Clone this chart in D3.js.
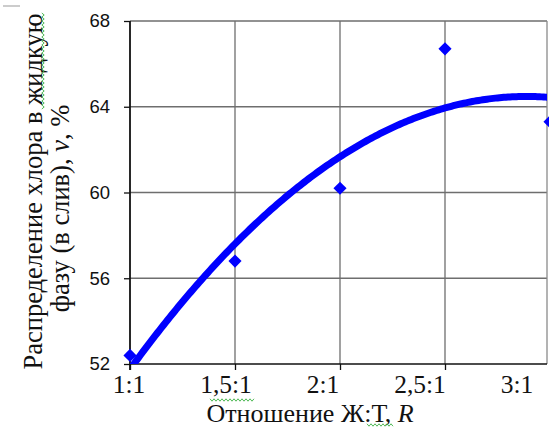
<!DOCTYPE html>
<html>
<head>
<meta charset="utf-8">
<script src="https://cdn.jsdelivr.net/npm/d3@7"></script>
<style>
  body { margin: 0; background: #fff; }
  svg { display: block; }
</style>
</head>
<body>
<svg id="chart" width="549" height="428"></svg>
<script>
const ratios = [1, 1.5, 2, 2.5, 3];
const ratioLabels = ['1:1', '1,5:1', '2:1', '2,5:1', '3:1'];
const chlorine = [52.4, 56.8, 60.2, 66.7, 63.3];
const yTicks = [52, 56, 60, 64, 68];

const plotL = 130, plotR = 547, plotT = 21, plotB = 364;
const serif = '"Liberation Serif", "Times New Roman", serif';

const svg = d3.select('#chart');

const x = d3.scaleLinear().domain([1, 3]).range([plotL, 550]);
const y = d3.scaleLinear().domain([52, 68]).range([plotB, plotT]);
// category labels are squeezed to fit inside the page
const xLab = d3.scalePoint().domain(ratioLabels).range([129, 517]);

// quadratic least squares trend (like the spreadsheet trendline)
const fitQuad = (xs, ys) => {
    let s = [0, 0, 0, 0, 0], t = [0, 0, 0];
    xs.forEach((xv, i) => {
        for (let k = 0; k < 5; k++) s[k] += Math.pow(xv, k);
        for (let k = 0; k < 3; k++) t[k] += Math.pow(xv, k) * ys[i];
    });
    const A = [[s[0], s[1], s[2], t[0]], [s[1], s[2], s[3], t[1]], [s[2], s[3], s[4], t[2]]];
    for (let i = 0; i < 3; i++) {
        for (let j = i + 1; j < 3; j++) {
            const f = A[j][i] / A[i][i];
            for (let k = i; k < 4; k++) A[j][k] -= f * A[i][k];
        }
    }
    const c = [0, 0, 0];
    for (let i = 2; i >= 0; i--) {
        let v = A[i][3];
        for (let k = i + 1; k < 3; k++) v -= A[i][k] * c[k];
        c[i] = v / A[i][i];
    }
    return xv => c[0] + c[1] * xv + c[2] * xv * xv;
};
const trend = fitQuad(ratios, chlorine);

svg.append('defs').append('clipPath').attr('id', 'plot')
    .append('rect').attr('x', plotL).attr('y', plotT)
    .attr('width', plotR - plotL).attr('height', plotB - plotT);

// grid
svg.append('g').selectAll('line')
    .data(yTicks.slice(1))
    .enter().append('line')
    .attr('x1', plotL).attr('x2', plotR)
    .attr('y1', d => y(d)).attr('y2', d => y(d))
    .attr('stroke', '#6e6e6e').attr('stroke-width', 1.3);

svg.append('g').selectAll('line')
    .data(ratios.slice(1, 4))
    .enter().append('line')
    .attr('x1', d => x(d)).attr('x2', d => x(d))
    .attr('y1', plotT).attr('y2', plotB)
    .attr('stroke', '#6e6e6e').attr('stroke-width', 1.3);

svg.append('line')
    .attr('x1', plotR).attr('x2', plotR).attr('y1', plotT).attr('y2', plotB)
    .attr('stroke', '#8a8a8a').attr('stroke-width', 1.3);

// axes
const yAxis = svg.append('g')
    .attr('transform', `translate(${plotL},0)`)
    .call(d3.axisLeft(y).tickValues(yTicks).tickSize(6).tickPadding(14));
yAxis.select('.domain').remove();
yAxis.selectAll('line').attr('stroke', '#111').attr('stroke-width', 1.3);
yAxis.selectAll('text')
    .attr('font-family', '"Liberation Sans", Arial, sans-serif')
    .attr('font-size', 18.5).attr('fill', '#111');

const xAxis = svg.append('g')
    .attr('transform', `translate(0,${plotB})`)
    .call(d3.axisBottom(x).tickValues(ratios).tickFormat('').tickSize(6));
xAxis.select('.domain').remove();
xAxis.selectAll('line').attr('stroke', '#111').attr('stroke-width', 1.3);

svg.append('g').selectAll('text')
    .data(ratioLabels)
    .enter().append('text')
    .attr('x', d => xLab(d)).attr('y', 393)
    .attr('text-anchor', 'middle')
    .attr('font-family', serif).attr('font-size', 25.5).attr('fill', '#111')
    .text(d => d);

svg.append('line')
    .attr('x1', plotL).attr('x2', plotR).attr('y1', plotB).attr('y2', plotB)
    .attr('stroke', '#111').attr('stroke-width', 1.5);
svg.append('line')
    .attr('x1', plotL).attr('x2', plotL).attr('y1', plotT).attr('y2', plotB + 6)
    .attr('stroke', '#111').attr('stroke-width', 1.8);

// trendline
const line = d3.line().x(d => x(d)).y(d => y(trend(d)));
svg.append('path')
    .datum(d3.range(1, 3.0001, 0.01))
    .attr('clip-path', 'url(#plot)')
    .attr('d', line)
    .attr('fill', 'none')
    .attr('stroke', '#0000ff')
    .attr('stroke-width', 7);

// markers
svg.append('g').selectAll('path')
    .data(ratios)
    .enter().append('path')
    .attr('transform', (d, i) => `translate(${x(d)},${y(chlorine[i])})`)
    .attr('d', d3.symbol(d3.symbolDiamond2, 110))
    .attr('fill', '#0000ff');

// axis titles
const xt = svg.append('text')
    .attr('x', 310).attr('y', 422)
    .attr('text-anchor', 'middle')
    .attr('font-family', serif).attr('font-size', 26).attr('fill', '#111');
xt.append('tspan').text('Отношение Ж:Т, ');
xt.append('tspan').attr('font-style', 'italic').text('R');

svg.append('text')
    .attr('transform', 'translate(42,191.5) rotate(-90)')
    .attr('text-anchor', 'middle')
    .attr('font-family', serif).attr('font-size', 26.5).attr('fill', '#111')
    .text('Распределение хлора в жидкую');

const yt2 = svg.append('text')
    .attr('transform', 'translate(69,208.5) rotate(-90)')
    .attr('text-anchor', 'middle')
    .attr('font-family', serif).attr('font-size', 26.5).attr('fill', '#111');
yt2.append('tspan').text('фазу (в слив), ');
yt2.append('tspan').attr('font-style', 'italic').text('v');
yt2.append('tspan').text(', %');

// spell-check squiggles and stray mark of the original
const squiggle = (x0, y0, len, vertical) => {
    const pts = d3.range(0, len + 0.01, 2).map((t, i) => {
        const off = (i % 2 ? 1.2 : -1.2);
        return vertical ? [x0 + off, y0 + t] : [x0 + t, y0 + off];
    });
    svg.append('path')
        .attr('d', d3.line()(pts))
        .attr('fill', 'none').attr('stroke', '#3cb043').attr('stroke-width', 0.9);
};
squiggle(43, 13, 96, true);
squiggle(210, 400, 44, false);
squiggle(367, 425, 26, false);

svg.append('line')
    .attr('x1', 3).attr('x2', 20).attr('y1', 6).attr('y2', 6)
    .attr('stroke', '#999').attr('stroke-width', 1);
</script>
</body>
</html>
